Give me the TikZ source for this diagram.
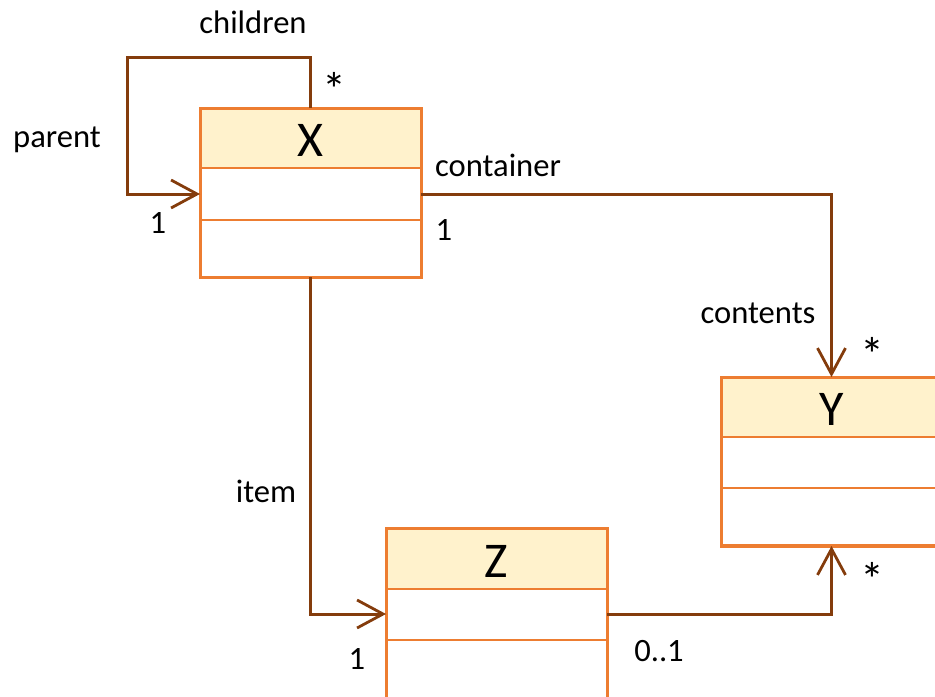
\documentclass[tikz,border=0pt]{standalone}
\usepackage{fontspec}
\setmainfont{Carlito}
\usetikzlibrary{arrows.meta}
\definecolor{boxline}{HTML}{ED7D31}
\definecolor{boxhead}{HTML}{FFF2CC}
\definecolor{assocline}{HTML}{843C0C}
\tikzset{
  classbox/.style={draw=boxline, line width=1.5pt, fill=white, anchor=north west,
    minimum width=110.5pt, minimum height=84.5pt, inner sep=0pt, outer sep=0pt},
  headfill/.style={fill=boxhead},
  divider/.style={draw=boxline, line width=1.1pt},
  classname/.style={font=\fontsize{25}{30}\selectfont, inner sep=0pt},
  assoc/.style={draw=assocline, line width=1.5pt,
    -{Straight Barb[length=13pt, width=14pt, line width=1.4pt]}},
  role/.style={font=\fontsize{16.3}{19}\selectfont, inner sep=0pt},
  many/.style={font=\fontsize{24}{28}\selectfont, inner sep=0pt},
}
\begin{document}
\begin{tikzpicture}[x=0.5pt, y=-0.5pt]
  \useasboundingbox (0,0) rectangle (935,696);
  \clip (0,0) rectangle (935,696);

  % class X
  \node[classbox] (X) at (200,108) {};
  \path[headfill] (200,108) rectangle (421,168);
  \path[divider] (200,168) -- (421,168) (200,220) -- (421,220);
  \draw[boxline, line width=1.5pt] (200,108) rectangle (421,277);
  \node[classname] (Xn) at (310.5,140) {X};

  % class Y (runs past the right edge)
  \node[classbox] (Y) at (721,377) {};
  \path[headfill] (721,377) rectangle (942,437);
  \path[divider] (721,437) -- (942,437) (721,488) -- (942,488);
  \draw[boxline, line width=1.5pt] (721,377) rectangle (942,545);
  \node[classname] (Yn) at (831.5,409) {Y};

  % class Z (runs past the bottom edge)
  \node[classbox, minimum height=85pt] (Z) at (386,528) {};
  \path[headfill] (386,528) rectangle (607,589);
  \path[divider] (386,589) -- (607,589) (386,640) -- (607,640);
  \draw[boxline, line width=1.5pt] (386,528) rectangle (607,698);
  \node[classname] (Zn) at (496.5,561) {Z};

  % corner points of the routes
  \coordinate (loopA) at (310.5,57);
  \coordinate (loopB) at (127,57);
  \coordinate (loopC) at (127,194);

  % associations
  \draw[assoc] (X.north) -- (loopA) -- (loopB) -- (loopC) -- (X.west |- loopC);
  \draw[assoc] (X.east |- loopC) -| (Y.north);
  \draw[assoc] (X.south) |- (386,614);
  \draw[assoc] (Z.east |- 0,614) -| (Y.south);

  % role names and multiplicities
  \node[role] (l1) at (253,22) {children};
  \node[many] (l2) at (334,89) {*};
  \node[role] (l3) at (57,140) {parent};
  \node[role] (l4) at (158,223) {1};
  \node[role] (l5) at (498,165) {container};
  \node[role] (l6) at (444,230) {1};
  \node[role] (l7) at (758,313) {contents};
  \node[many] (l8) at (872,354) {*};
  \node[role] (l9) at (266,491) {item};
  \node[many] (l10) at (872,579) {*};
  \node[role] (l11) at (357,659) {1};
  \node[role] (l12) at (659,651) {0..1};
\end{tikzpicture}
\end{document}
